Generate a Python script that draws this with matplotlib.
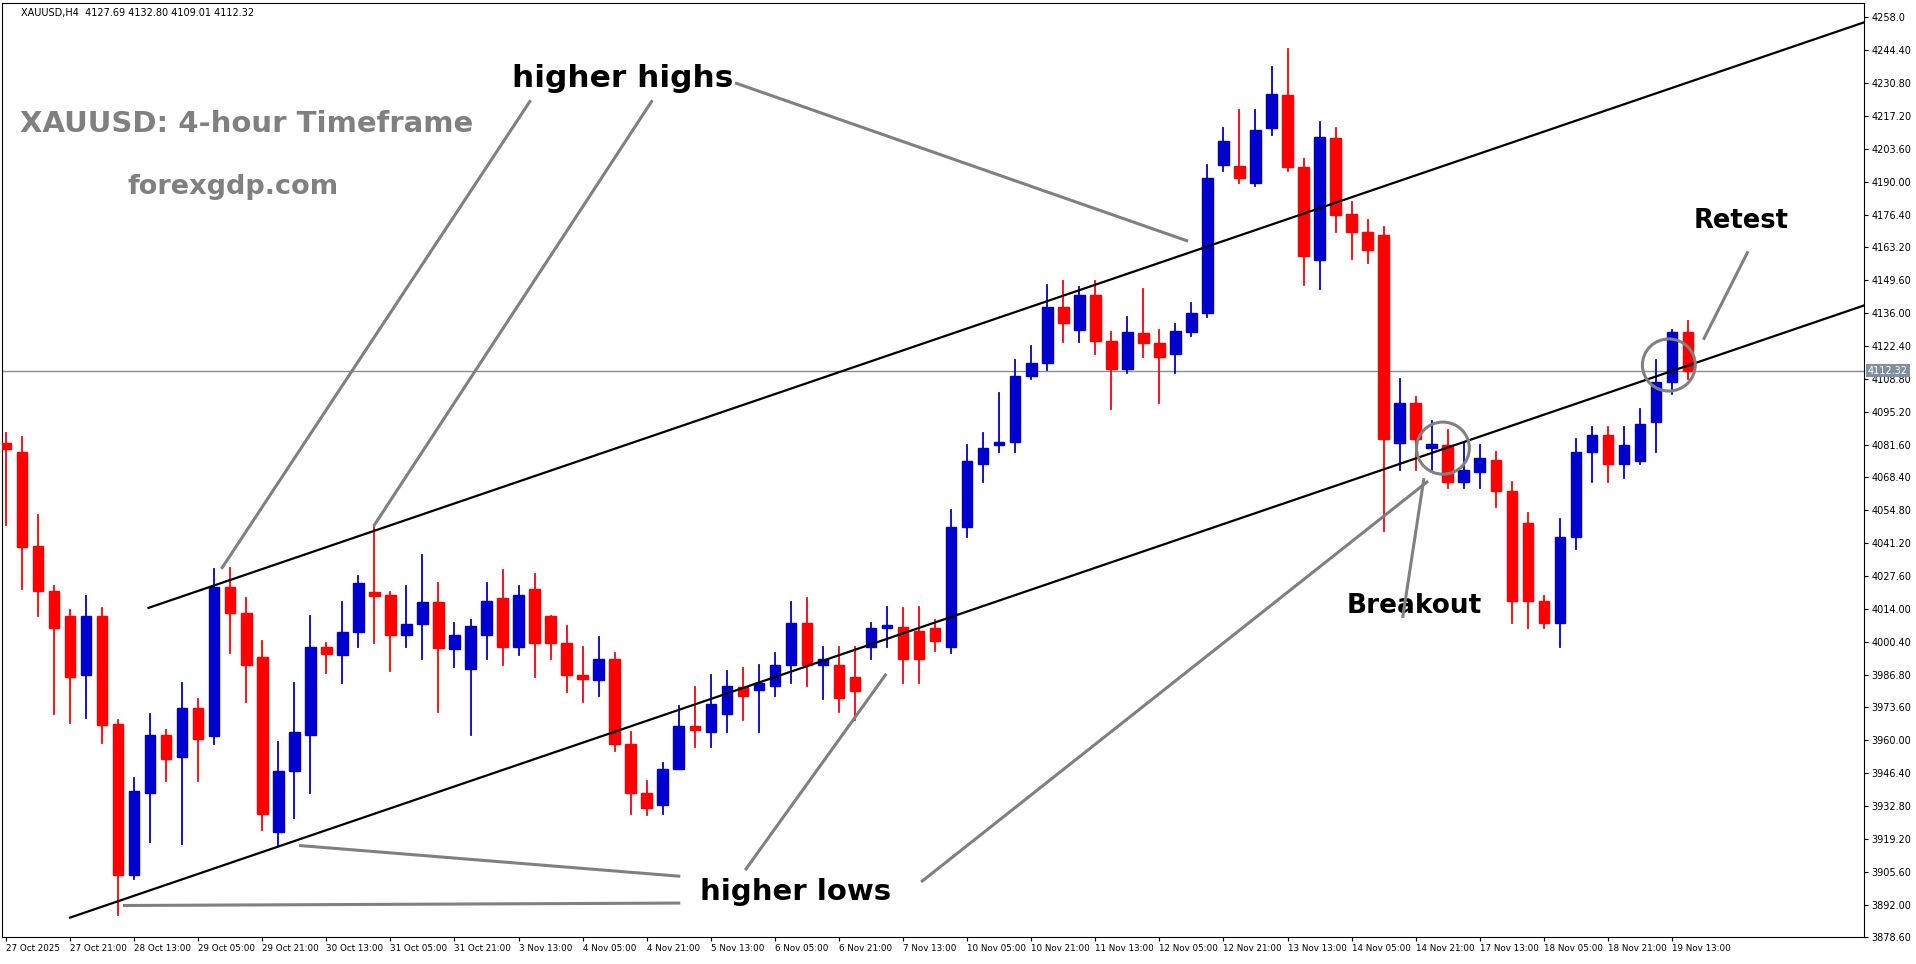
import matplotlib
matplotlib.use("Agg")
import matplotlib.pyplot as plt
from matplotlib.patches import Ellipse, Rectangle

opens = [4082.4,4078.8,4040.1,4021.5,4010.9,3986.7,4010.9,3966.6,3904.2,3937.9,
         3962.1,3953.0,3973.1,3961.6,4023.0,4012.4,3994.3,3921.8,3947.0,3962.1,
         3998.3,3994.8,4004.3,4021.0,4019.9,4003.3,4007.8,4016.9,3997.3,3989.2,
         4003.3,4018.4,3998.3,4022.0,4010.9,3999.8,3986.7,3984.7,3993.3,3958.1,
         3937.9,3932.9,3948.0,3965.6,3963.1,3970.6,3981.7,3980.7,3982.2,3990.7,
         4008.3,3990.7,3990.7,3985.7,3998.3,4005.9,4006.3,4004.8,4005.9,3998.3,
         4047.6,4073.8,4081.4,4082.9,4110.0,4115.5,4138.7,4129.2,4143.3,4124.6,
         4113.0,4127.6,4123.6,4119.1,4128.1,4136.2,4197.1,4196.6,4189.6,4212.2,
         4225.8,4196.1,4157.9,4208.2,4177.0,4169.4,4168.4,4082.4,4099.0,4080.3,
         4081.4,4066.3,4070.3,4075.3,4062.7,4049.6,4017.4,4008.3,4043.6,4078.8,
         4085.9,4073.8,4074.8,4090.9,4107.5,4128.1]
closes = [4079.8,4039.6,4021.5,4005.9,3985.7,4010.9,3966.1,3904.2,3938.9,3962.1,
          3952.0,3973.1,3960.1,4023.0,4012.4,3990.7,3929.4,3947.0,3963.1,3998.3,
          3995.3,4004.3,4024.5,4019.4,4003.3,4007.8,4016.9,3997.8,4003.3,4006.8,
          4017.4,3998.3,4019.9,3999.8,3999.8,3986.7,3985.2,3993.3,3958.1,3937.9,
          3931.9,3948.0,3965.6,3964.1,3974.6,3982.2,3978.2,3983.2,3990.7,4008.3,
          3990.7,3993.3,3977.2,3980.2,4005.9,4007.3,3993.3,3993.3,4000.8,4047.6,
          4074.8,4080.3,4082.9,4110.0,4115.5,4138.7,4132.0,4143.3,4124.6,4113.0,
          4128.1,4123.6,4118.1,4128.7,4136.2,4191.6,4207.2,4191.6,4211.7,4226.3,
          4196.1,4159.4,4208.7,4176.5,4169.4,4161.9,4083.9,4099.0,4083.9,4081.9,
          4066.3,4071.3,4076.3,4062.7,4017.4,4017.4,4008.3,4043.6,4078.8,4085.9,
          4073.8,4081.4,4090.4,4107.5,4128.1,4112.3]
highs = [4086.4,4084.9,4052.7,4023.5,4013.4,4019.4,4014.4,3968.1,3944.0,3970.6,
         3964.1,3983.2,3976.7,4030.5,4031.0,4018.4,4000.8,3959.1,3983.2,4010.9,
         3999.8,4016.9,4027.5,4047.6,4021.0,4023.5,4036.1,4024.5,4008.3,4009.3,
         4024.5,4030.0,4023.5,4028.5,4010.9,4006.8,3998.3,4002.3,3995.8,3963.1,
         3942.9,3950.5,3974.1,3981.7,3986.7,3988.2,3989.7,3990.7,3995.8,4016.9,
         4018.4,3998.3,3998.3,3998.3,4008.3,4014.9,4014.4,4014.9,4009.3,4054.7,
         4081.4,4086.4,4103.0,4116.6,4122.6,4147.8,4149.3,4146.8,4149.3,4128.1,
         4134.2,4145.8,4129.2,4131.7,4140.2,4197.1,4212.2,4219.8,4219.8,4237.4,
         4244.9,4199.6,4214.7,4212.2,4182.0,4174.5,4171.4,4109.0,4101.5,4091.4,
         4087.9,4082.9,4081.4,4078.8,4066.3,4053.7,4019.4,4051.2,4083.9,4088.9,
         4088.9,4088.9,4096.4,4116.6,4129.2,4132.8]
lows = [4048.6,4022.0,4010.9,3970.6,3967.1,3969.1,3958.6,3887.6,3902.7,3917.8,
        3942.9,3916.8,3942.9,3958.1,3995.8,3975.6,3922.8,3916.3,3927.9,3937.9,
        3987.7,3983.2,3998.3,3999.8,3988.2,3998.3,3993.3,3971.6,3990.2,3962.1,
        3993.3,3990.7,3994.8,3985.7,3993.3,3979.7,3975.6,3978.2,3955.5,3929.4,
        3928.9,3929.4,3948.0,3957.1,3957.1,3963.1,3968.1,3963.1,3978.2,3983.2,
        3982.2,3976.7,3971.6,3968.1,3993.3,3998.3,3983.2,3983.2,3996.8,3995.8,
        4043.6,4066.3,4078.8,4078.8,4109.0,4112.5,4124.1,4124.1,4119.1,4096.4,
        4111.5,4118.1,4099.0,4111.5,4126.6,4134.2,4194.6,4189.6,4188.6,4209.7,
        4194.6,4147.8,4145.8,4169.4,4158.4,4156.8,4046.1,4071.3,4071.3,4071.3,
        4063.8,4063.8,4063.8,4056.2,4008.3,4005.9,4005.9,3998.3,4038.6,4066.3,
        4066.3,4067.8,4073.8,4078.8,4102.5,4109.0]

date_labels = ["27 Oct 2025","27 Oct 21:00","28 Oct 13:00","29 Oct 05:00","29 Oct 21:00",
               "30 Oct 13:00","31 Oct 05:00","31 Oct 21:00","3 Nov 13:00","4 Nov 05:00",
               "4 Nov 21:00","5 Nov 13:00","6 Nov 05:00","6 Nov 21:00","7 Nov 13:00",
               "10 Nov 05:00","10 Nov 21:00","11 Nov 13:00","12 Nov 05:00","12 Nov 21:00",
               "13 Nov 13:00","14 Nov 05:00","14 Nov 21:00","17 Nov 13:00","18 Nov 05:00",
               "18 Nov 21:00","19 Nov 13:00"]
price_ticks = [4258.0,4244.4,4230.8,4217.2,4203.6,4190.0,4176.4,4163.2,4149.6,4136.0,
               4122.4,4108.8,4095.2,4081.6,4068.4,4054.8,4041.2,4027.6,4014.0,4000.4,
               3986.8,3973.6,3960.0,3946.4,3932.8,3919.2,3905.6,3892.0,3878.6]
last_price = 4112.32

fig = plt.figure(figsize=(19.16, 9.64), dpi=100)
ax = fig.add_axes([0.001, 0.028, 0.972, 0.969])
W = 0.66
for i, (o, c, h, l) in enumerate(zip(opens, closes, highs, lows)):
    col = "#0000CC" if c >= o else "#FF0000"
    ax.plot([i, i], [l, h], color=col, lw=1.3, zorder=2)
    ax.add_patch(Rectangle((i - W/2, min(o, c)), W, max(abs(c - o), 0.6), color=col, zorder=3))

ax.set_xlim(-0.25, 116)
ax.set_ylim(3878.6, 4264)
ax.axhline(last_price, color="#8090A0", lw=1, zorder=1)

# channel lines
ax.plot([8.9, 116], [4014.4, 4256.0], color="black", lw=1.6, zorder=4)
ax.plot([4.0, 116], [3886.6, 4139.2], color="black", lw=1.6, zorder=4)

g = "#808080"
for (x0, y0, x1, y1) in [(13.5,4031.0,32.7,4223.3),(23.0,4048.6,40.3,4223.3),
                         (45.6,4230.8,73.7,4165.9),(7.4,3891.6,42.0,3892.6),
                         (18.4,3916.3,42.0,3903.7),(46.2,3906.7,54.9,3986.7),
                         (57.2,3901.7,88.7,4066.3),(87.2,4010.9,88.5,4067.3),
                         (106.0,4125.6,108.7,4160.9)]:
    ax.plot([x0, x1], [y0, y1], color=g, lw=2.2, zorder=5)
for (cx, cy) in [(89.7, 4080.3), (103.8, 4114.6)]:
    ax.add_patch(Ellipse((cx, cy), 3.3, 21.5, fill=False, ec=g, lw=2.2, zorder=6))

ax.text(38.5, 4233, "higher highs", fontsize=22.5, fontweight="bold", ha="center", va="center")
ax.text(49.3, 3897, "higher lows", fontsize=21, fontweight="bold", ha="center", va="center")
ax.text(87.9, 4015, "Breakout", fontsize=19, fontweight="bold", ha="center", va="center")
ax.text(108.3, 4174, "Retest", fontsize=18.5, fontweight="bold", ha="center", va="center")
ax.text(0.9, 4214, "XAUUSD: 4-hour Timeframe", fontsize=21, fontweight="bold", color=g, va="center")
ax.text(7.6, 4188, "forexgdp.com", fontsize=19.5, fontweight="bold", color=g, va="center")
ax.text(0.01, 0.995, "XAUUSD,H4  4127.69 4132.80 4109.01 4112.32", transform=ax.transAxes,
        fontsize=7, va="top", ha="left")

ax.yaxis.tick_right()
ax.set_yticks(price_ticks)
ax.set_yticklabels([f"{v:.2f}" if v != 4258.0 else "4258.0" for v in price_ticks], fontsize=7)
ax.set_xticks(list(range(0, 4 * len(date_labels), 4)))
ax.set_xticklabels(date_labels, fontsize=6.3, ha="left")
ax.tick_params(axis="both", length=3, pad=2)
for s in ax.spines.values():
    s.set_color("black")
ax.text(1.002, last_price, f"{last_price:.2f}", transform=ax.get_yaxis_transform(),
        fontsize=7, color="white", va="center", ha="left",
        bbox=dict(boxstyle="square,pad=0.2", fc="#8090A0", ec="none"), zorder=10)

fig.savefig("out.png", dpi=100)
